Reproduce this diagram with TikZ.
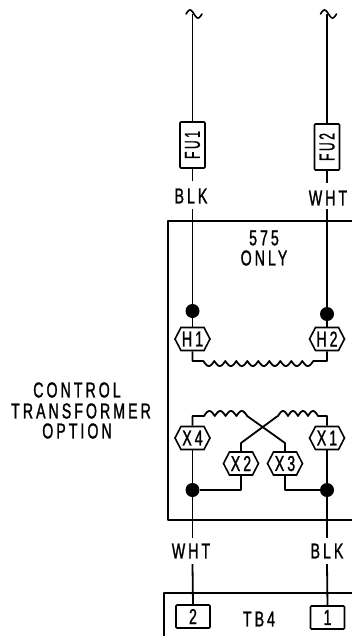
\documentclass[tikz,border=0pt]{standalone}
\usepackage{fontspec}
\usetikzlibrary{shapes.symbols}
\newfontfamily\lbl[FakeStretch=0.66,LetterSpace=14,FakeBold=1.2]{Liberation Sans}
\newcommand{\lblfont}{\lbl\fontsize{21.5}{21.5}\selectfont}
\tikzset{
 wire/.style={line width=1.8pt,line join=round},
 txt/.style={inner sep=0pt,font=\lblfont,text=black},
 hexa/.style={draw,line width=1.6pt,shape=signal,signal to=east and west,signal pointer angle=125,minimum width=35pt,minimum height=23pt,inner sep=0pt,font=\lblfont},
 fuse/.style={draw,line width=1.6pt,rounded corners=1pt,minimum width=25pt,minimum height=46pt,inner sep=0pt},
 term/.style={draw,line width=1.6pt,rounded corners=1pt,minimum width=34pt,minimum height=23pt,inner sep=0pt,font=\lblfont},
 dot/.style={circle,fill=black,minimum size=14pt,inner sep=0pt},
 tilde/.style={line width=1.6pt,line cap=round,line join=round}
}
\begin{document}
\begin{tikzpicture}[x=1pt,y=-1pt]
\useasboundingbox (0,0) rectangle (352,637);
% frames
\draw[wire] (352,221) -- (168,221) -- (168,520) -- (352,520);
\draw[wire] (352,593) -- (164,593) -- (164,636);
% fuses
\node[fuse] (fu1) at (192.5,145) {\rotatebox{90}{\scalebox{0.85}[1]{\lblfont FU1}}};
\node[fuse] (fu2) at (327,147) {\rotatebox{90}{\scalebox{0.85}[1]{\lblfont FU2}}};
\coordinate (t1) at (192.5,14);
\coordinate (t2) at (327,14);
\draw[wire] (t1) -- (fu1.north);
\draw[wire] (t2) -- (fu2.north);
\draw[tilde] plot[domain=-6.5:9.5,samples=33] ({192.5+\x},{14+4*sin(22.5*(\x-1.5))});
\draw[tilde] plot[domain=-6.5:9.5,samples=33] ({327+\x},{14+4*sin(22.5*(\x-1.5))});
% labels
\node[txt] (blk1) at (191,196) {BLK};
\node[txt] (wht1) at (328,198) {WHT};
\node[txt] (wht2) at (191,551) {WHT};
\node[txt] (blk2) at (327,551) {BLK};
\node[txt] (only) at (264,238) {575};
\node[txt] (only2) at (264,258) {ONLY};
\node[txt] (tb) at (259,619) {TB4};
\node[txt] (c1) at (77,390) {CONTROL};
\node[txt] (c2) at (81,411) {TRANSFORMER};
\node[txt] (c3) at (77,431) {OPTION};
% fuse tails
\coordinate (a1) at (192.5,181);\coordinate (a2) at (192.5,209);
\coordinate (b1) at (327,183);\coordinate (b2) at (327,209);
\draw[wire] (fu1.south) -- (a1);
\draw[wire] (fu2.south) -- (b1);
% hexes and dots
\node[hexa] (h1) at (192.5,339) {H1};
\node[hexa] (h2) at (327,339) {H2};
\node[hexa] (x4) at (192.5,438) {X4};
\node[hexa] (x1) at (327,438) {X1};
\node[hexa] (x2) at (241,463.5) {X2};
\node[hexa] (x3) at (285,463.5) {X3};
\node[dot] (d1) at (192.5,311) {};
\node[dot] (d2) at (327,314) {};
\node[dot] (d3) at (192.5,490) {};
\node[dot] (d4) at (327,490) {};
\draw[wire] (a2) -- (d1) -- (h1.north);
\draw[wire] (b2) -- (d2) -- (h2.north);
\draw[wire] (x4.south) -- (d3);
\draw[wire] (x1.south) -- (d4);
\draw[wire] (x2.south) |- (d3);
\draw[wire] (x3.south) |- (d4);
% primary coil
\draw[wire] (h1.south) |- (203.3,361) -- plot[domain=0:10,samples=161] ({203.3+11*\x},{361+5*abs(sin(180*\x))}) -| (h2.south);
% secondary coils
\draw[wire] (x4.north) |- (204,416) -- plot[domain=0:4,samples=65] ({204+10.8*\x},{416-5*abs(sin(180*\x))}) -- (285,443) -- (x3.north);
\draw[wire] (x2.north) -- (241,443) -- (277,416.5) -- plot[domain=0:4,samples=65] ({278+10*\x},{416-5*abs(sin(180*\x))}) -| (x1.north);
% terminals
\node[term] (t2n) at (193,616.5) {2};
\node[term] (t1n) at (327.5,617.5) {1};
\coordinate (e1) at (192.5,538);\coordinate (e2) at (192.5,564);
\coordinate (g1) at (327,538);\coordinate (g2) at (327,564);
\draw[wire] (d3) -- (e1);
\draw[wire] (d4) -- (g1);
\draw[wire] (e2) -- (t2n.north);
\draw[wire] (g2) -- (t1n.north);
\end{tikzpicture}
\end{document}
